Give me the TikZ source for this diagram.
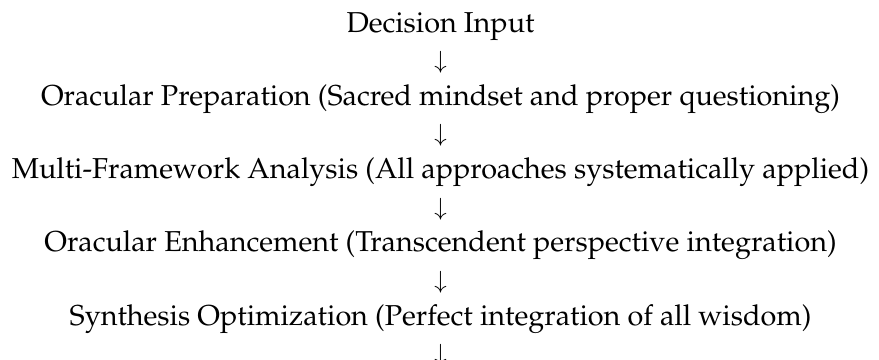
\documentclass[tikz,border=0pt]{standalone}
\usepackage[T1]{fontenc}
\usepackage{palatino}
\usetikzlibrary{positioning}

\begin{document}
\begin{tikzpicture}[node distance=0pt]
  
  \tikzset{main node/.style={inner sep=0pt, text centered,
  		text height=25bp, text depth=11.25bp,
  		font=\fontsize{28.9}{34}\selectfont}, }
  \tikzset{main arrow/.style={main node}, }
\useasboundingbox (0,0) rectangle (879bp,-360bp);
\node[main node, anchor=base] (1) at (440.5bp,-32bp) {Decision Input};
\node[main arrow] (a1) [below =of 1]  {$\downarrow$};
\node[main node] (2) [below =of a1]  {Oracular Preparation (Sacred mindset and proper questioning)};
\node[main arrow] (a2) [below =of 2]  {$\downarrow$};
\node[main node] (3) [below =of a2]  {Multi-Framework Analysis (All approaches systematically applied)};
\node[main arrow] (a3) [below =of 3]  {$\downarrow$};
\node[main node] (4) [below =of a3]  {Oracular Enhancement (Transcendent perspective integration)};
\node[main arrow] (a4) [below =of 4]  {$\downarrow$};
\node[main node] (5) [below =of a4]  {Synthesis Optimization (Perfect integration of all wisdom)};
\node[main arrow] (a5) [below =of 5]  {$\downarrow$};
%%  
\end{tikzpicture}
\end{document}
